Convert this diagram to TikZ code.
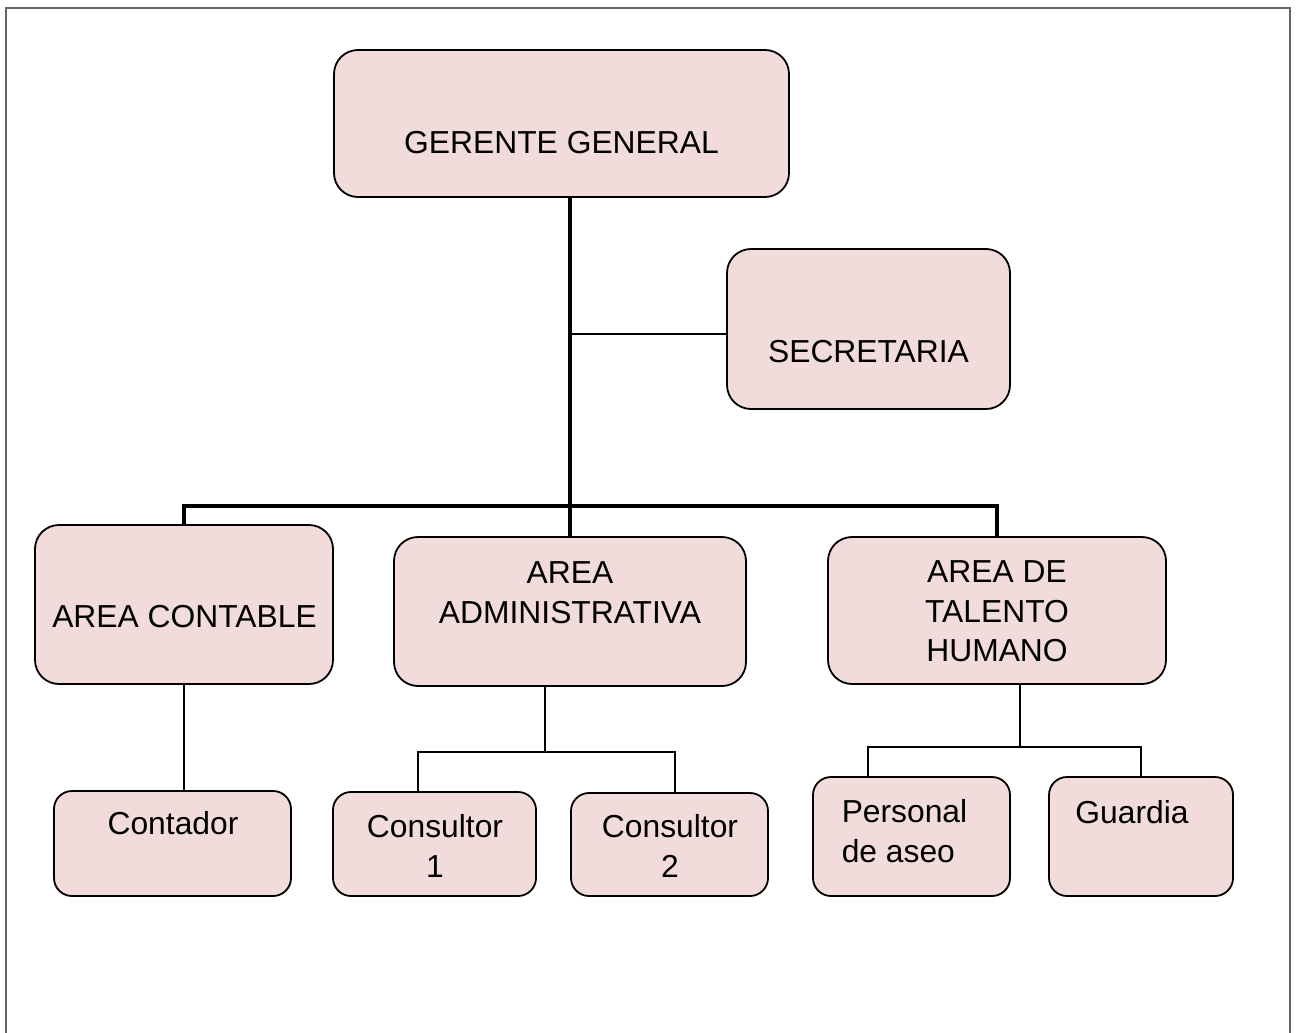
\documentclass[tikz,border=0pt]{standalone}
\usepackage{fontspec}
\setmainfont{Liberation Sans}
\definecolor{boxpink}{RGB}{242,219,219}

\tikzset{every picture/.style={line width=0.75pt}}
\tikzset{
  orgbox/.style={draw=black, fill=boxpink, line width=0.9pt, rounded corners=12pt, inner sep=0pt},
  smallbox/.style={orgbox, rounded corners=9pt},
  orgtext/.style={font=\fontsize{15.9}{19.8}\selectfont, inner sep=0pt, align=center},
  trunk/.style={draw=black, line width=2pt},
  branch/.style={draw=black, line width=0.7pt},
  pageframe/.style={draw=black!60, line width=0.6pt}
}

\begin{document}
\begin{tikzpicture}[x=0.5pt,y=0.5pt,yscale=-1,xscale=1]
	\useasboundingbox (0,0) rectangle (1297,1033);
	
	%Shape: Frame
	\draw [pageframe] (6,8) rectangle (1290,1050);
	
	%Shape: Rounded Rect [gerente]
	\node (gg) [orgbox, minimum width=227.5pt, minimum height=73.5pt] at (561.5,123.5) {};
	%Shape: Rounded Rect [secretaria]
	\node (sec) [orgbox, minimum width=141.5pt, minimum height=80pt] at (868.5,329) {};
	%Shape: Rounded Rect [areas]
	\node (cont) [orgbox, minimum width=149pt, minimum height=79.5pt] at (184,604.5) {};
	\node (adm) [orgbox, minimum width=176pt, minimum height=74.5pt] at (570,611.5) {};
	\node (tal) [orgbox, minimum width=169pt, minimum height=73.5pt] at (997,610.5) {};
	%Shape: Rounded Rect [puestos]
	\node (conta) [smallbox, minimum width=118.5pt, minimum height=52.5pt] at (172.5,843.5) {};
	\node (cons1) [smallbox, minimum width=101.5pt, minimum height=52pt] at (434.5,844) {};
	\node (cons2) [smallbox, minimum width=98.5pt, minimum height=51.5pt] at (669.5,844.5) {};
	\node (pers) [smallbox, minimum width=98.5pt, minimum height=59.5pt] at (911.5,836.5) {};
	\node (guar) [smallbox, minimum width=92pt, minimum height=59.5pt] at (1141,836.5) {};
	
	%Straight Lines [trunk]
	\coordinate (bus) at (571,506);
	\draw [trunk] (adm.north) -- (adm.north |- gg.south);
	\draw [trunk] (cont.north) |- (bus) -| (tal.north);
	%Straight Lines [secretaria]
	\draw [branch] ([yshift=2.5pt]sec.west) -- ([yshift=2.5pt]sec.west -| adm.north);
	%Straight Lines [contable]
	\draw [branch] (cont.south) -- (cont.south |- conta.north);
	%Straight Lines [administrativa]
	\coordinate (admfork) at (545,752);
	\coordinate (fcons1) at (418,752);
	\coordinate (fcons2) at (675,752);
	\draw [branch] (admfork |- adm.south) -- (admfork);
	\draw [branch] (fcons1 |- cons1.north) -- (fcons1) -- (fcons2) -- (fcons2 |- cons2.north);
	%Straight Lines [talento]
	\coordinate (talfork) at (1020,747);
	\coordinate (fpers) at (868,747);
	\coordinate (fguar) at (1141,747);
	\draw [branch] (talfork |- tal.south) -- (talfork);
	\draw [branch] (fpers |- pers.north) -- (fpers) -- (fguar) -- (fguar |- guar.north);
	
	% Text Node
	\node (ggtext) [orgtext, anchor=base] at (561.5,153) {GERENTE GENERAL};
	% Text Node
	\node (sectext) [orgtext, anchor=base] at (868.5,362) {SECRETARIA};
	% Text Node
	\node (conttext) [orgtext, anchor=base] at (184.5,627) {AREA CONTABLE};
	% Text Node
	\node (admtext) [orgtext, anchor=north] at (570,561) {AREA\\ADMINISTRATIVA};
	% Text Node
	\node (taltext) [orgtext, anchor=north] at (997,560) {AREA DE\\TALENTO\\HUMANO};
	% Text Node
	\node (contatext) [orgtext, anchor=base] at (173,834) {Contador};
	% Text Node
	\node (cons1text) [orgtext, anchor=north] at (435,814) {Consultor\\1};
	% Text Node
	\node (cons2text) [orgtext, anchor=north] at (670,814) {Consultor\\2};
	% Text Node
	\node (perstext) [orgtext, align=left, anchor=north west] at (841,799) {Personal\\de aseo};
	% Text Node
	\node (guartext) [orgtext, anchor=base] at (1132,823) {Guardia};
	
\end{tikzpicture}
\end{document}
